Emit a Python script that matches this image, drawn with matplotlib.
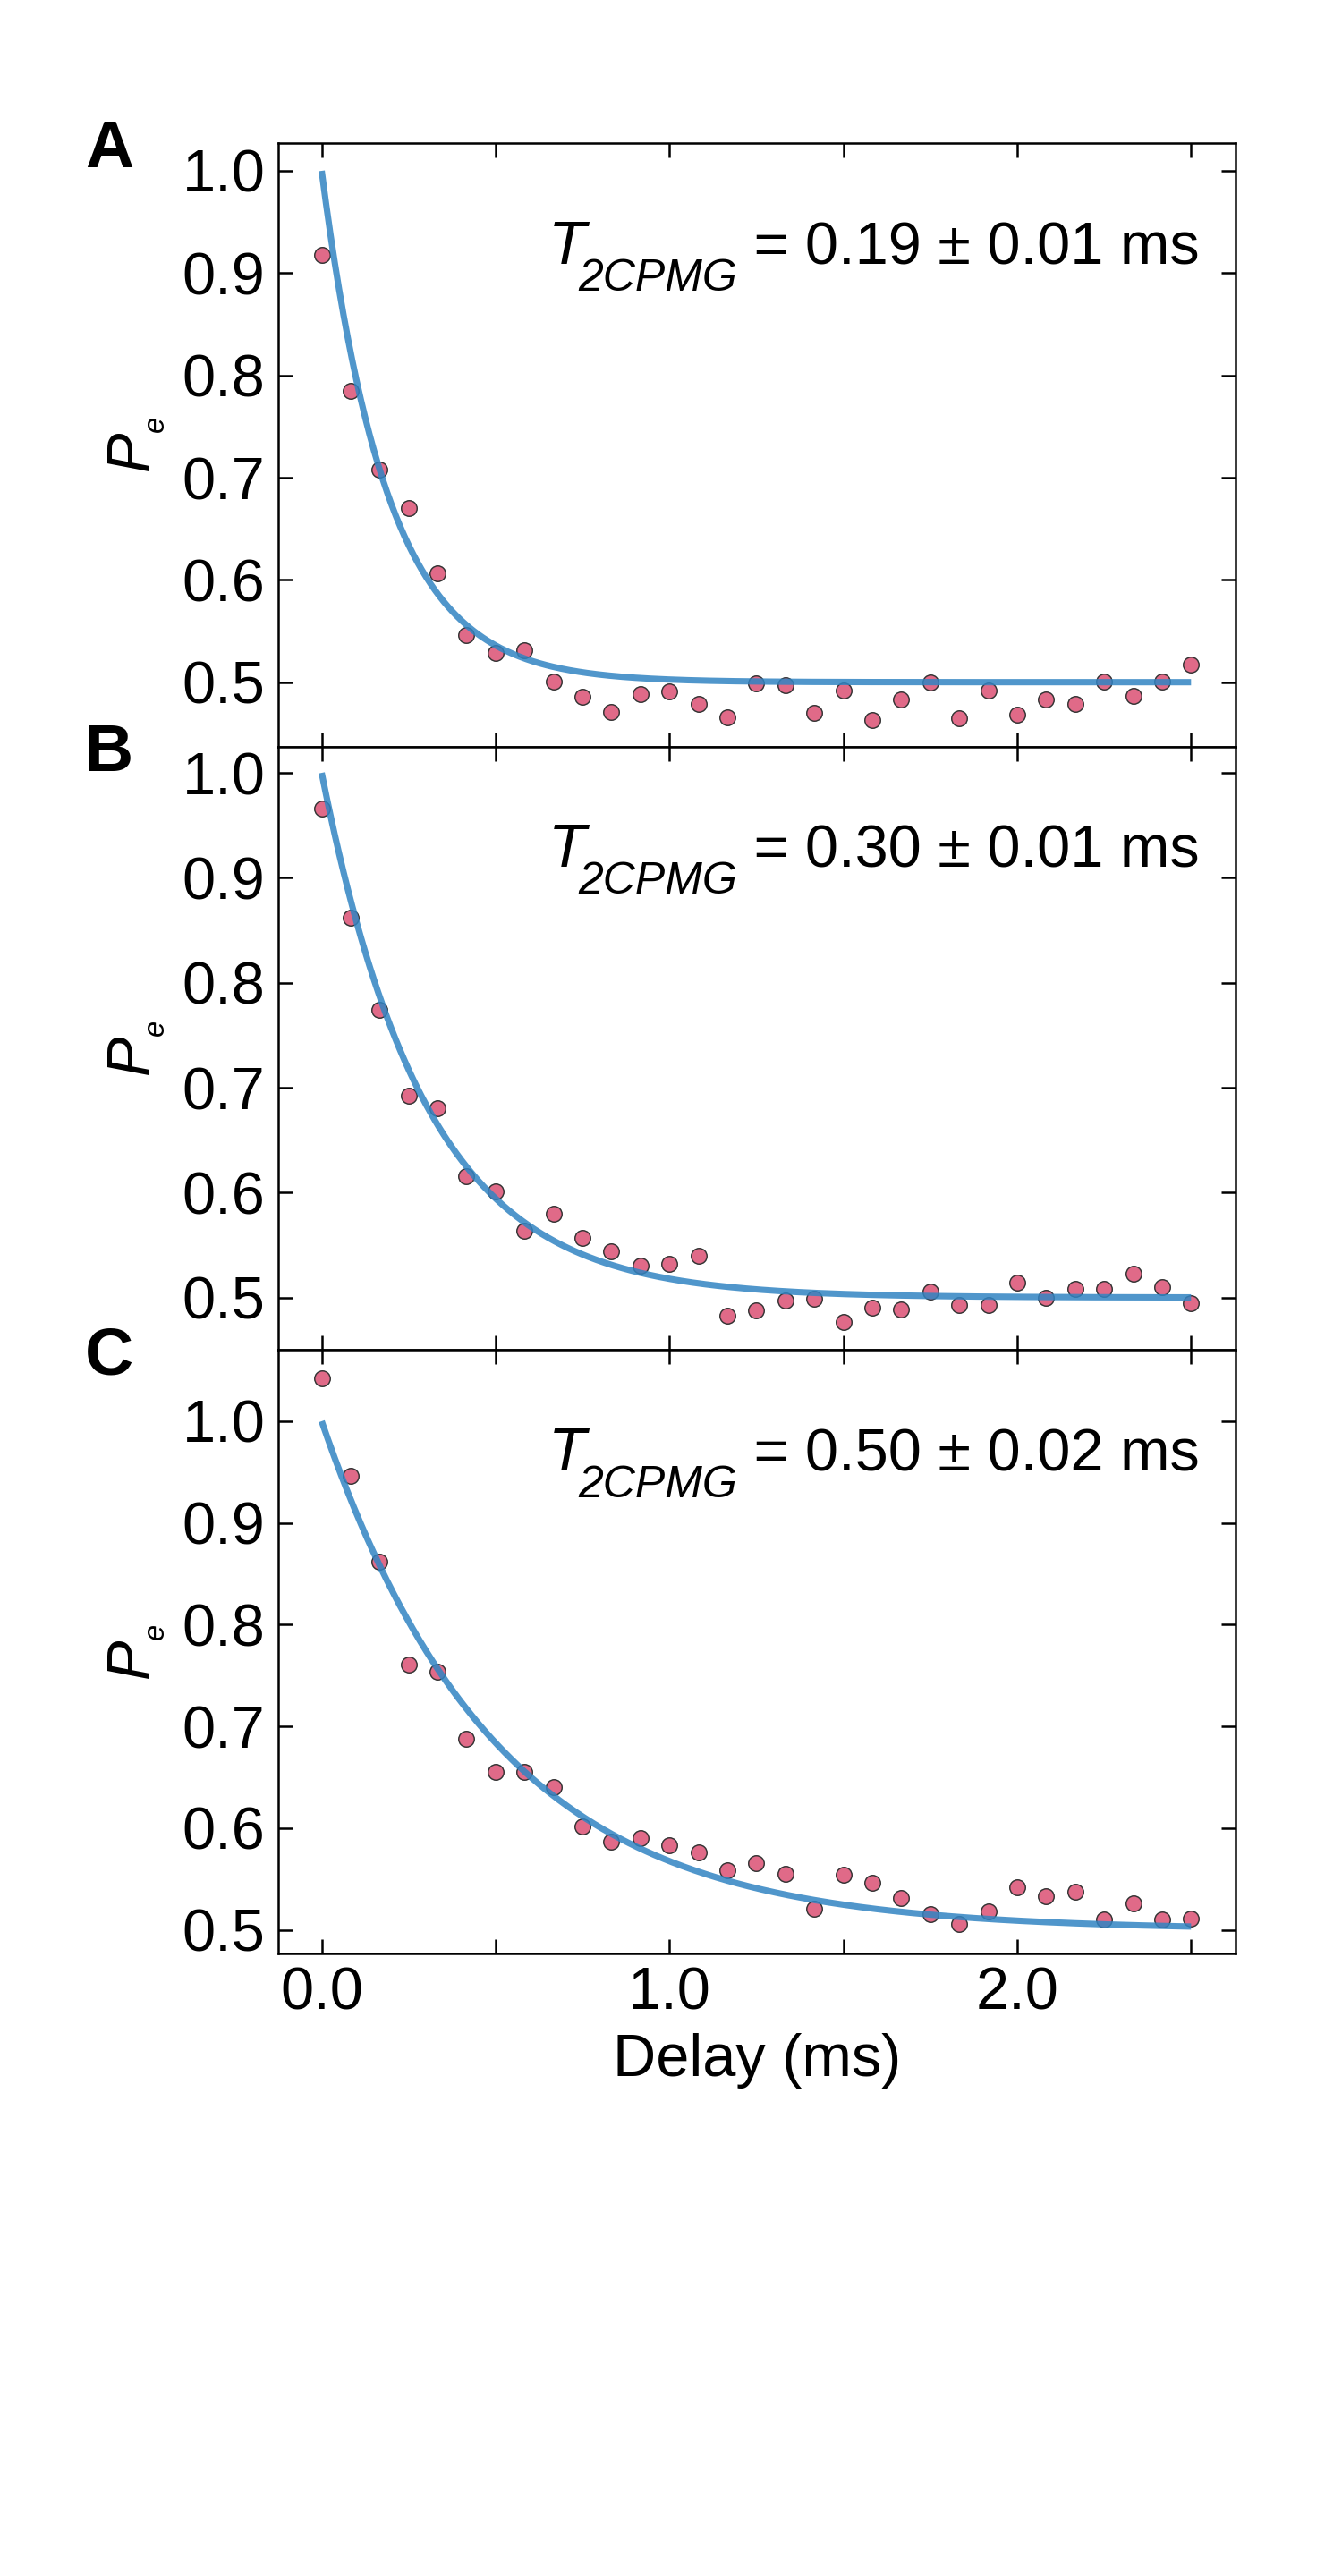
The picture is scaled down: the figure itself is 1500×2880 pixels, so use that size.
"""
CPMG decay curves: excited state population vs delay, three panels.
"""

import numpy as np
import matplotlib.pyplot as plt
from matplotlib.ticker import MultipleLocator

# --- data ---
delay_ms = np.linspace(0.0, 2.5, 31)

pe_a = [0.918, 0.785, 0.708, 0.670, 0.606, 0.546, 0.529, 0.531, 0.501, 0.486,
        0.471, 0.488, 0.491, 0.479, 0.466, 0.499, 0.497, 0.470, 0.492, 0.463,
        0.483, 0.500, 0.465, 0.492, 0.468, 0.483, 0.479, 0.501, 0.487, 0.501,
        0.517]
pe_b = [0.966, 0.862, 0.774, 0.692, 0.680, 0.616, 0.601, 0.564, 0.580, 0.557,
        0.544, 0.530, 0.532, 0.540, 0.483, 0.488, 0.497, 0.499, 0.477, 0.490,
        0.489, 0.506, 0.493, 0.493, 0.514, 0.500, 0.508, 0.508, 0.523, 0.510,
        0.495]
pe_c = [1.042, 0.946, 0.862, 0.761, 0.754, 0.688, 0.655, 0.655, 0.640, 0.602,
        0.587, 0.590, 0.583, 0.576, 0.559, 0.566, 0.555, 0.521, 0.554, 0.546,
        0.531, 0.516, 0.506, 0.518, 0.542, 0.533, 0.538, 0.510, 0.526, 0.510,
        0.511]

t2_values = [0.19, 0.30, 0.50]
t2_errors = [0.01, 0.01, 0.02]
panel_letters = ['A', 'B', 'C']
ylims = [(0.437, 1.027), (0.450, 1.025), (0.477, 1.070)]

# fit model: P_e = 0.5 + 0.5 exp(-t / T2)
fit_offset = 0.5
fit_amp = 0.5

color_pts = '#E06A88'
color_fit = '#3184C2'

plt.rcParams.update({
    'font.family': ['Liberation Sans', 'DejaVu Sans'],
    'font.size': 16,
    'mathtext.fontset': 'custom',
    'mathtext.rm': 'Liberation Sans',
    'mathtext.it': 'Liberation Sans:italic',
    'mathtext.bf': 'Liberation Sans:bold',
    'axes.linewidth': 0.6,
})

fig, axes = plt.subplots(3, 1, figsize=(5, 9.6), dpi=300, sharex=True)
fig.subplots_adjust(left=0.2073, right=0.9207, top=0.9444, bottom=0.2417,
                    hspace=0)

t_fit = np.linspace(0.0, 2.5, 400)
all_pe = [pe_a, pe_b, pe_c]

for ax, pe, T, dT, letter, ylim in zip(axes, all_pe, t2_values, t2_errors,
                                       panel_letters, ylims):
    ax.plot(delay_ms, pe, 'o', ms=4.2, mfc=color_pts, mec='#333333',
            mew=0.35, zorder=2)
    ax.plot(t_fit, fit_offset + fit_amp * np.exp(-t_fit / T),
            color=color_fit, lw=1.7, alpha=0.85, zorder=3,
            solid_capstyle='butt')

    ax.set_xlim(-0.125, 2.628)
    ax.set_ylim(*ylim)
    ax.xaxis.set_major_locator(MultipleLocator(1.0))
    ax.xaxis.set_minor_locator(MultipleLocator(0.5))
    ax.yaxis.set_major_locator(MultipleLocator(0.1))
    ax.xaxis.set_major_formatter(plt.FormatStrFormatter('%.1f'))
    ax.yaxis.set_major_formatter(plt.FormatStrFormatter('%.1f'))
    ax.tick_params(which='both', direction='in', top=True, right=True,
                   length=3.9, width=0.6, pad=3.5)

    # small, dropped "e" like the original
    ax.set_ylabel(r'$P_{{}_{e}}$', labelpad=4)

    # T_2CPMG annotation built from pieces: value, subscript, italic T
    main = ax.text(0.962, 0.80, f' = {T:.2f} ± {dT:.2f} ms',
                   transform=ax.transAxes, ha='right', va='baseline',
                   fontsize=16)
    sub = ax.annotate('2CPMG', xy=(0, 0), xycoords=main,
                      xytext=(0, -3.8), textcoords='offset points',
                      ha='right', va='baseline', fontsize=12,
                      style='italic')
    ax.annotate('T', xy=(0, 0), xycoords=(sub, main),
                xytext=(2.2, 3.4), textcoords='offset points',
                ha='right', va='baseline', fontsize=16.5, style='italic')

    ax.text(-0.202, 0.96, letter, transform=ax.transAxes, ha='left',
            va='baseline', fontsize=18, fontweight='bold')

axes[-1].set_xlabel('Delay (ms)', labelpad=3)

fig.savefig('out.png', dpi=300)
